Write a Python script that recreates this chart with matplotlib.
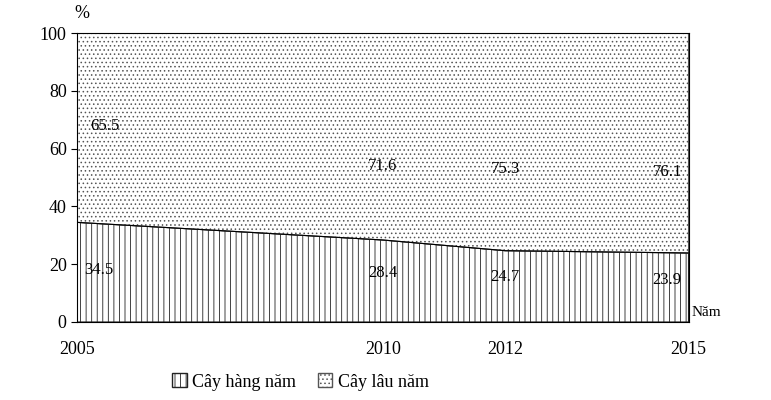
import matplotlib
matplotlib.use("Agg")
import matplotlib.pyplot as plt
from matplotlib.patches import Patch

plt.rcParams['font.family'] = ['Liberation Serif', 'DejaVu Serif']
plt.rcParams['hatch.linewidth'] = 0.6

years = [2005, 2010, 2012, 2015]
hang_nam = [34.5, 28.4, 24.7, 23.9]
lau_nam = [65.5, 71.6, 75.3, 76.1]
tick_labels = ["2005", "2010", "2012", "2015"]

fig = plt.figure(figsize=(7.71, 4.0), dpi=100)
ax = fig.add_axes([0.1, 0.195, 0.793, 0.722])
ax.fill_between(years, 0, hang_nam, facecolor='white', edgecolor='#222222', hatch='|||', linewidth=0.8)
top = [h + l for h, l in zip(hang_nam, lau_nam)]
ax.fill_between(years, hang_nam, top, facecolor='white', edgecolor='#555555', hatch='....', linewidth=0.8)
ax.plot(years, hang_nam, color='black', lw=0.8)
ax.set_xlim(2005, 2015)
ax.set_ylim(0, 100)
ax.set_xticks(years)
ax.set_xticklabels(tick_labels, fontsize=13)
ax.set_yticks(range(0, 101, 20))
ax.tick_params(axis='y', labelsize=13, length=4)
ax.tick_params(axis='x', length=0, pad=14)
for s in ax.spines.values():
    s.set_linewidth(0.8)

top_y = [68, 54, 53, 52]
bot_y = [18, 17, 15.5, 14.5]
top_x = [2005.45, 2010, 2012, 2014.65]
bot_x = [2005.35, 2010, 2012, 2014.65]
for h, l, ty, by, tx, bx in zip(hang_nam, lau_nam, top_y, bot_y, top_x, bot_x):
    ax.text(tx, ty, f"{l}", ha='center', va='center', fontsize=12)
    ax.text(bx, by, f"{h}", ha='center', va='center', fontsize=12)

ax.text(2004.95, 104, "%", ha='left', va='bottom', fontsize=13)
ax.text(2015.05, 1, "Năm", ha='left', va='bottom', fontsize=11)

handles = [Patch(facecolor='white', edgecolor='#222222', hatch='|||', label='Cây hàng năm'),
           Patch(facecolor='white', edgecolor='#555555', hatch='....', label='Cây lâu năm')]
fig.legend(handles=handles, loc='center', bbox_to_anchor=(0.39, 0.045), ncol=2, frameon=False,
           fontsize=13, handlelength=0.8, handleheight=0.8, handletextpad=0.3, columnspacing=1.2)

fig.savefig("out.png", dpi=100)
